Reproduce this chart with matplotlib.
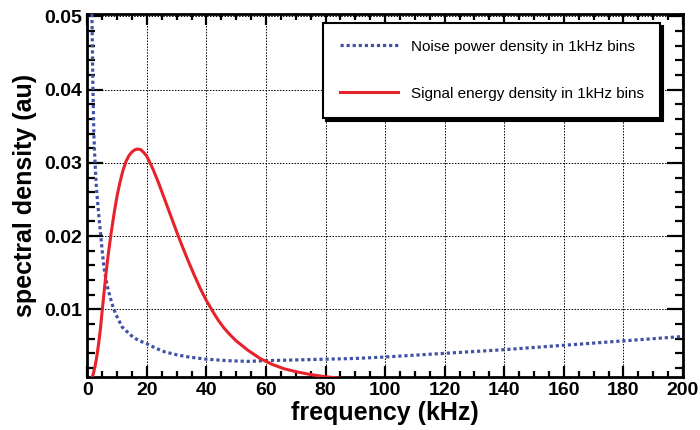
import numpy as np
import matplotlib
matplotlib.use('Agg')
import matplotlib.pyplot as plt
from matplotlib.ticker import MultipleLocator, FormatStrFormatter

plt.rcParams['font.family'] = ['Liberation Sans', 'DejaVu Sans']

# ── Spectra (frequency in kHz) ────────────────
noise_freq = [1.5, 1.7, 1.9, 2.2, 2.6, 3.0, 3.5, 4.0, 4.5, 5.0, 5.6, 6.3, 7.0,
              7.8, 8.6, 9.5, 11.7, 14.5, 17.0, 20.0, 23.0, 26.0, 30.0, 34.0,
              40.0, 47.0, 54.0, 60.0, 70.0, 80.0, 90.0, 100.0, 120.0, 140.0,
              160.0, 180.0, 200.0]
noise_psd = [0.052, 0.046, 0.040, 0.034, 0.030, 0.027, 0.0245, 0.0222, 0.0202,
             0.0180, 0.0157, 0.0140, 0.0127, 0.0115, 0.0104, 0.0094, 0.0076,
             0.0065, 0.0058, 0.0053, 0.0047, 0.0042, 0.0038, 0.0035, 0.0032,
             0.0030, 0.0029, 0.0030, 0.0031, 0.0032, 0.0033, 0.0035, 0.0040,
             0.0045, 0.0051, 0.0057, 0.0063]

signal_freq = [1.4, 2.0, 2.6, 3.2, 3.8, 4.4, 5.0, 5.6, 6.2, 7.0, 8.0, 9.0,
               10.0, 11.0, 12.0, 13.0, 14.0, 15.0, 16.0, 17.0, 18.0, 19.0,
               20.0, 22.0, 24.0, 26.0, 28.0, 30.0, 32.0, 34.0, 36.0, 38.0,
               40.0, 42.0, 44.0, 46.0, 48.0, 50.0, 54.0, 58.0, 62.0, 66.0,
               70.0, 75.0, 80.0, 85.0]
signal_esd = [0.0004, 0.0012, 0.0022, 0.0036, 0.0053, 0.0073, 0.0098, 0.0122,
              0.0146, 0.0174, 0.0204, 0.0231, 0.0255, 0.0274, 0.0290, 0.0302,
              0.0310, 0.0315, 0.0318, 0.0319, 0.0318, 0.0314, 0.0309, 0.0292,
              0.0272, 0.0250, 0.0228, 0.0206, 0.0185, 0.0165, 0.0146, 0.0128,
              0.0112, 0.0098, 0.0085, 0.0074, 0.0065, 0.0057, 0.0044, 0.0033,
              0.0025, 0.0019, 0.0015, 0.0011, 0.0008, 0.0006]

x_ticks = list(range(0, 201, 20))
y_ticks = [0.01, 0.02, 0.03, 0.04, 0.05]

NOISE_COLOR = '#4253a5'
SIGNAL_COLOR = '#e8222b'

# ── Plot ──────────────────────────────────────────────────────────────────────
fig = plt.figure(figsize=(7.0, 4.3), dpi=100)
ax = fig.add_axes([0.1247, 0.1221, 0.8510, 0.8465])

ax.plot(noise_freq, noise_psd, color=NOISE_COLOR, linewidth=2.3,
        linestyle=(0, (1.0, 0.9)), dash_capstyle='butt',
        label='Noise power density in 1kHz bins', zorder=3)
ax.plot(signal_freq, signal_esd, color=SIGNAL_COLOR, linewidth=2.2,
        solid_joinstyle='round', label='Signal energy density in 1kHz bins',
        zorder=4)

ax.set_xlim(0, 200)
ax.set_ylim(0.0007, 0.0504)
ax.set_xticks(x_ticks)
ax.set_yticks(y_ticks)
ax.xaxis.set_minor_locator(MultipleLocator(5))
ax.yaxis.set_minor_locator(MultipleLocator(0.002))
ax.yaxis.set_major_formatter(FormatStrFormatter('%.2f'))

ax.grid(True, which='major', color='black', linestyle=(0, (1.5, 1.5)),
        linewidth=0.7, zorder=1)
ax.set_axisbelow(True)

for side in ax.spines.values():
    side.set_linewidth(2.0)

ax.tick_params(axis='both', which='both', direction='in', top=True, right=True,
               width=1.6, colors='black')
ax.tick_params(axis='x', which='major', length=8, pad=3)
ax.tick_params(axis='x', which='minor', length=4)
ax.tick_params(axis='y', which='major', length=11.5, pad=4)
ax.tick_params(axis='y', which='minor', length=6)
for lab in ax.get_xticklabels() + ax.get_yticklabels():
    lab.set_fontsize(14)
    lab.set_fontweight('bold')

ax.set_xlabel('frequency (kHz)', fontsize=18, fontweight='bold', labelpad=2)
ax.set_ylabel('spectral density (au)', fontsize=18, fontweight='bold', labelpad=5)

leg = ax.legend(loc='upper left', bbox_to_anchor=(0.396, 0.721, 0.565, 0.2537),
                mode='expand', borderaxespad=0, fontsize=11, frameon=True,
                fancybox=False, edgecolor='black', framealpha=1,
                borderpad=1.1, labelspacing=2.18, handlelength=3.8,
                handletextpad=0.85,
                shadow={'ox': 2.2, 'oy': -2.2, 'color': 'black', 'alpha': 1})
leg.get_frame().set_linewidth(1.5)

fig.savefig('out.png', dpi=100)
